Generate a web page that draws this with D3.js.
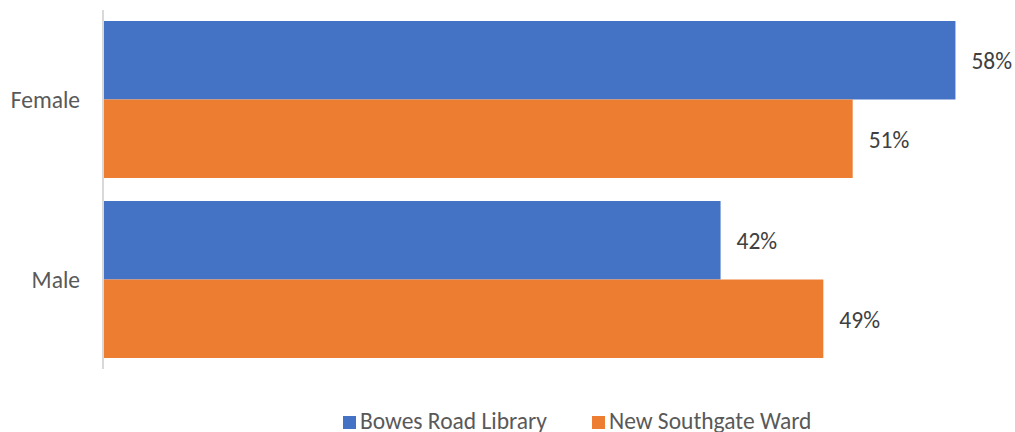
<!DOCTYPE html>
<html>
<head>
<meta charset="utf-8">
<script src="https://cdn.jsdelivr.net/npm/d3@7"></script>
<style>
  html, body { margin: 0; padding: 0; background: #fff; }
  svg { display: block; }
  text { font-family: Carlito, Lato, "Open Sans", sans-serif; fill: #595959; }
</style>
</head>
<body>
<svg id="chart" width="1015" height="432"></svg>
<script>
const categories = ["Female", "Male"];
const seriesNames = ["Bowes Road Library", "New Southgate Ward"];
const bowesRoadLibrary = [0.58, 0.42];
const newSouthgateWard = [0.51, 0.49];
const seriesColors = ["#4472C4", "#ED7D31"];

const seriesValues = [bowesRoadLibrary, newSouthgateWard];
const svg = d3.select("#chart");
const FS = 23.5;

const x = d3.scaleLinear().domain([0, 1]).range([104, 104 + 1468]);
const y = d3.scaleBand().domain(categories).range([21, 358]).paddingInner(0.128).paddingOuter(0);
const ySub = d3.scaleBand().domain(seriesNames).range([0, y.bandwidth()]);

// axis line
svg.append("line")
  .attr("x1", 103).attr("x2", 103)
  .attr("y1", 10).attr("y2", 369)
  .attr("stroke", "#D9D9D9").attr("stroke-width", 2);

const rows = [];
categories.forEach((c, ci) => {
  seriesNames.forEach((s, si) => {
    rows.push({ cat: c, series: s, value: seriesValues[si][ci], color: seriesColors[si] });
  });
});

const g = svg.append("g");
g.selectAll("rect").data(rows).enter().append("rect")
  .attr("x", x(0))
  .attr("y", d => y(d.cat) + ySub(d.series))
  .attr("width", d => x(d.value) - x(0))
  .attr("height", ySub.bandwidth())
  .attr("fill", d => d.color);

g.selectAll("text.val").data(rows).enter().append("text")
  .attr("class", "val")
  .attr("x", d => x(d.value) + 16)
  .attr("y", d => y(d.cat) + ySub(d.series) + ySub.bandwidth() / 2 + 1)
  .attr("dy", "0.35em")
  .attr("font-size", FS)
  .style("fill", "#404040")
  .text(d => Math.round(d.value * 100) + "%");

// category labels
svg.selectAll("text.cat").data(categories).enter().append("text")
  .attr("class", "cat")
  .attr("x", 80)
  .attr("y", d => y(d) + y.bandwidth() / 2)
  .attr("dy", "0.35em")
  .attr("text-anchor", "end")
  .attr("font-size", FS)
  .text(d => d);

// legend
const legendX = [343, 592];
const legend = svg.selectAll("g.leg").data(seriesNames).enter().append("g")
  .attr("transform", (d, i) => `translate(${legendX[i]},416)`);
legend.append("rect").attr("width", 13).attr("height", 13)
  .attr("fill", (d, i) => seriesColors[i]);
legend.append("text").attr("x", 17).attr("y", 12.5)
  .attr("font-size", FS)
  .text(d => d);
</script>
</body>
</html>
